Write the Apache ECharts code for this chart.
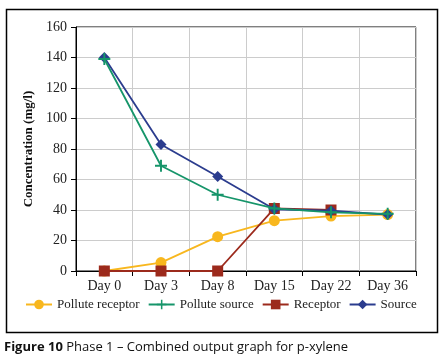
<!DOCTYPE html>
<html><head><meta charset="utf-8">
<script src="https://cdn.jsdelivr.net/npm/echarts@6/dist/echarts.min.js"></script>
<style>html,body{margin:0;padding:0;background:#fff}#c{width:444px;height:362px}</style>
</head><body><div id="c"></div>
<script>
const categories = ['Day 0','Day 3','Day 8','Day 15','Day 22','Day 36'];
const polluteReceptor = [0, 5.5, 22.5, 33, 36, 37];
const polluteSource = [139, 69, 50, 41, 38.5, 37.5];
const receptor = [0, 0, 0, 41, 40, null];
const source = [140, 83, 62, 40.5, 39.5, 37];
const yTicks = {min: 0, max: 160, interval: 20};

const serif = 'Liberation Serif';
const plusPath = 'path://M4.2,0h1.6v4.2h4.2v1.6h-4.2v4.2h-1.6v-4.2h-4.2v-1.6h4.2z';
const chart = echarts.init(document.getElementById('c'));
chart.setOption({
  animation: false,
  backgroundColor: '#fff',
  grid: {left: 76, right: 28, top: 27, bottom: 91, show: true, borderColor: '#000', borderWidth: 1, backgroundColor: 'transparent'},
  legend: {
    top: 298, left: 25, padding: 0,
    data: ['Pollute receptor','Pollute source','Receptor','Source'],
    itemWidth: 26, itemHeight: 12, itemGap: 8,
    textStyle: {fontFamily: serif, fontSize: 13, color: '#222'}
  },
  xAxis: {
    type: 'category', data: categories, boundaryGap: true,
    axisLine: {lineStyle: {color: '#000', width: 1}},
    axisTick: {show: true, length: 5, lineStyle: {color: '#000'}},
    axisLabel: {fontFamily: serif, fontSize: 14, color: '#222', margin: 8},
    splitLine: {show: true, lineStyle: {color: '#cccccc', width: 1}}
  },
  yAxis: {
    type: 'value', min: yTicks.min, max: yTicks.max, interval: yTicks.interval,
    name: 'Concentration (mg/l)', nameLocation: 'middle', nameGap: 40,
    nameTextStyle: {fontFamily: serif, fontSize: 13, fontWeight: 'bold', color: '#111'},
    axisLine: {show: true, lineStyle: {color: '#000', width: 1}},
    axisTick: {show: true, length: 5, lineStyle: {color: '#000'}},
    axisLabel: {fontFamily: serif, fontSize: 14, color: '#222', margin: 9},
    splitLine: {show: true, lineStyle: {color: '#cccccc', width: 1}}
  },
  series: [
    {name: 'Pollute receptor', type: 'line', data: polluteReceptor, z: 2,
     symbol: 'circle', symbolSize: 11, color: '#F8B71E',
     lineStyle: {width: 1.8, color: '#F8B71E'}, itemStyle: {color: '#F8B71E'}},
    {name: 'Receptor', type: 'line', data: receptor, z: 3,
     symbol: 'rect', symbolSize: 11, color: '#9C2A1C',
     lineStyle: {width: 1.8, color: '#9C2A1C'}, itemStyle: {color: '#9C2A1C'}},
    {name: 'Source', type: 'line', data: source, z: 4,
     symbol: 'diamond', symbolSize: 11, color: '#2B3C8E',
     lineStyle: {width: 1.8, color: '#2B3C8E'}, itemStyle: {color: '#2B3C8E'}},
    {name: 'Pollute source', type: 'line', data: polluteSource, z: 5,
     symbol: plusPath, symbolSize: 12, color: '#16956A',
     lineStyle: {width: 1.8, color: '#16956A'}, itemStyle: {color: '#16956A'}}
  ],
  graphic: [
    {type: 'rect', left: 4, top: 7, shape: {x: 0, y: 0, width: 431, height: 323},
     style: {fill: 'none', stroke: '#000', lineWidth: 1.5}, silent: true},
    {type: 'text', left: 4, top: 341,
     style: {text: '{b|Figure 10} Phase 1 – Combined output graph for p-xylene',
       rich: {b: {fontFamily: 'Open Sans', fontSize: 13, fontWeight: 'bold', fill: '#111'}},
       fontFamily: 'Open Sans', fontSize: 13, fill: '#111'}}
  ]
});
</script></body></html>
